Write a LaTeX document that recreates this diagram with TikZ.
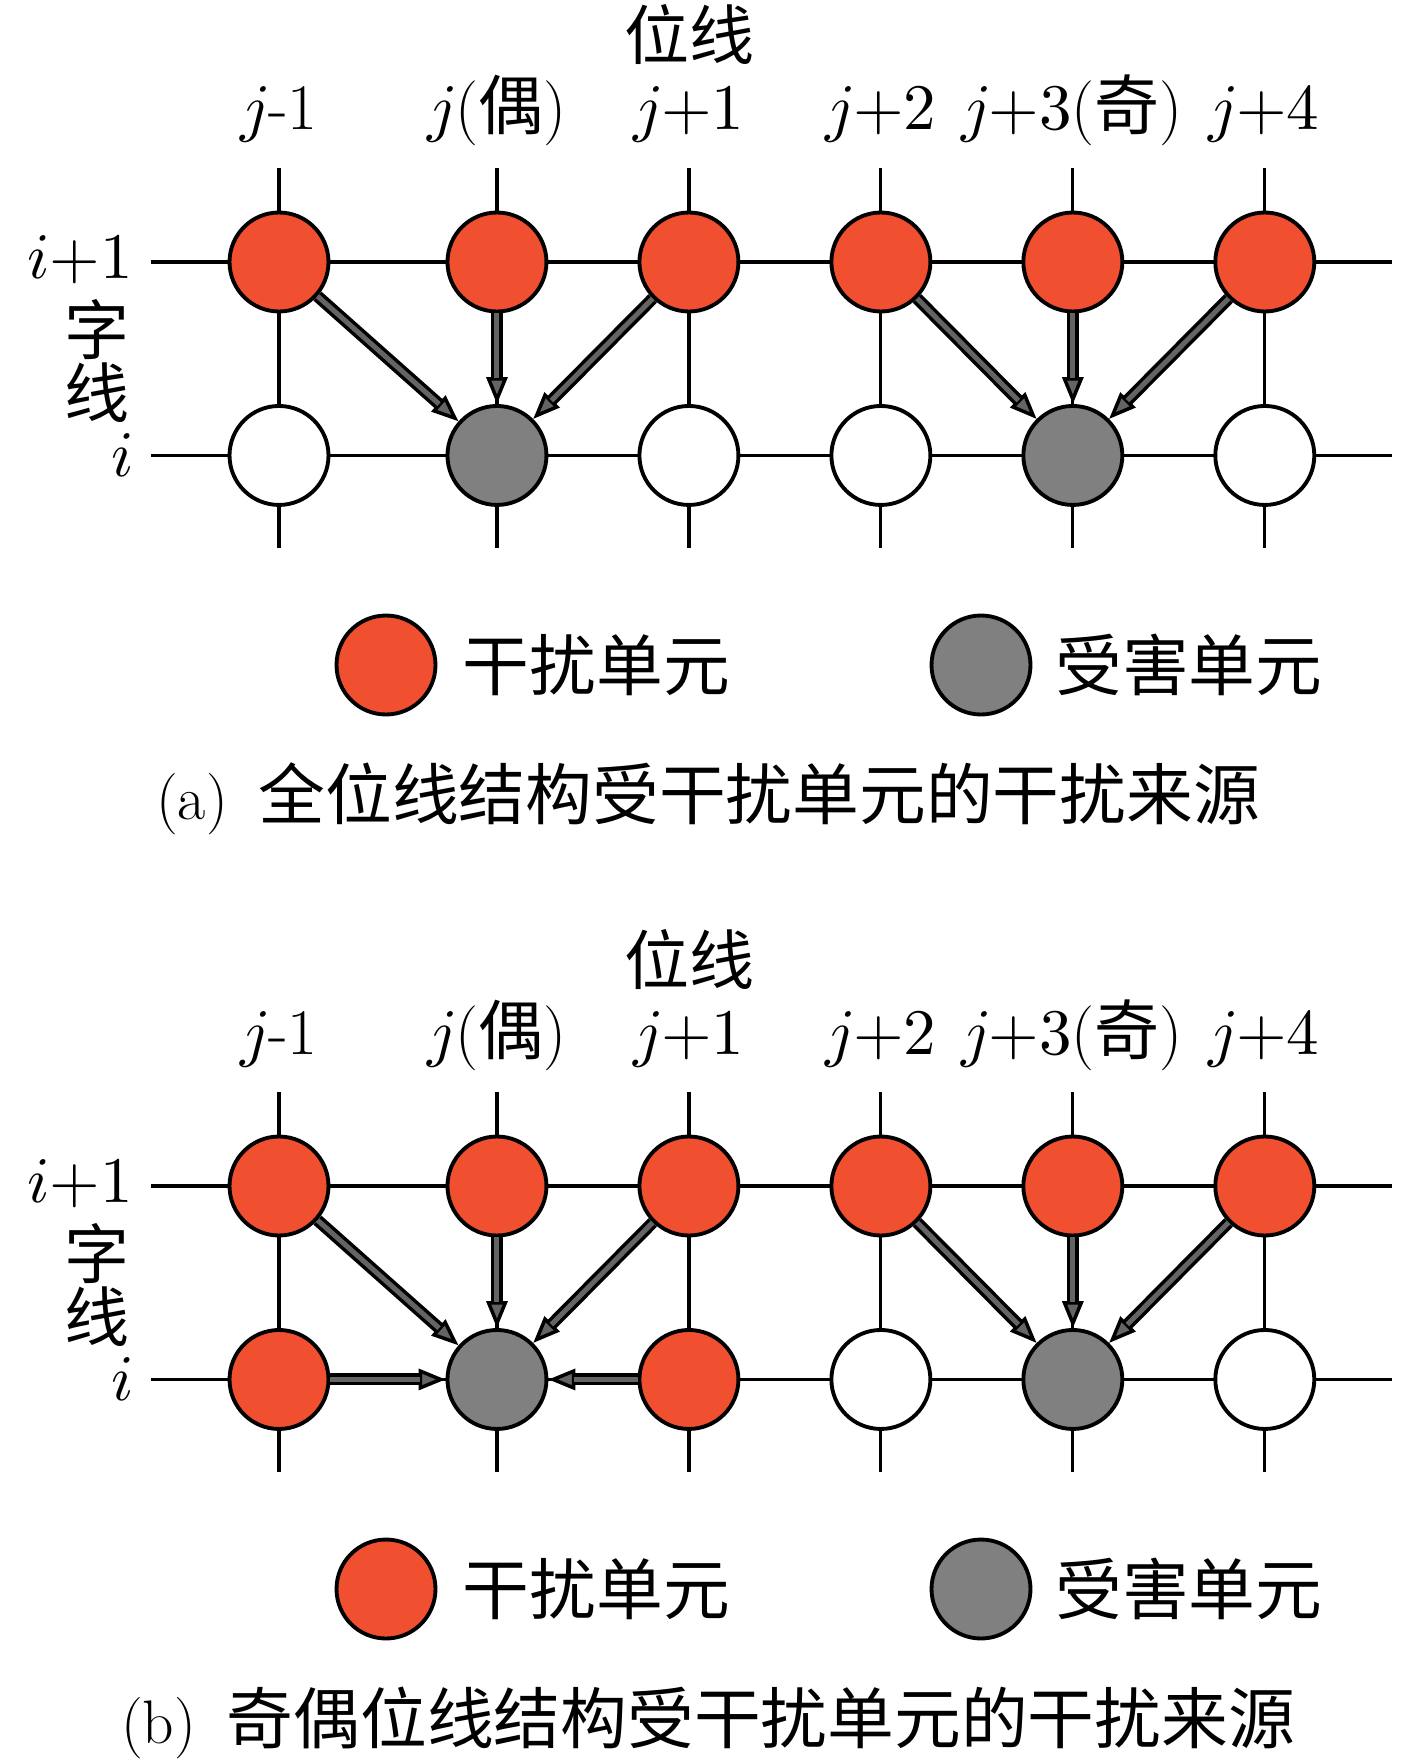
\documentclass[tikz,border=0pt]{standalone}
\usepackage{fontspec}
\usepackage{unicode-math}
\setmathfont{Latin Modern Math}
\newfontfamily\cjk{Noto Sans CJK SC}
\usetikzlibrary{positioning,arrows.meta,backgrounds}

\definecolor{aggressor}{RGB}{240,80,48}
\definecolor{victim}{RGB}{128,128,128}
\definecolor{arrowgray}{RGB}{100,100,100}

\tikzset{
    cell/.style={circle,draw=black,line width=2.2pt,minimum size=1.98cm,inner sep=0pt,fill=white,on grid},
    aggr/.style={cell,fill=aggressor},
    vict/.style={cell,fill=victim},
    wire/.style={draw=black,line width=1.8pt},
    hit/.style={draw=black,line width=0.24cm,
        -{Triangle[length=0.54cm,width=0.42cm,fill=arrowgray,line width=0.07cm]},
        postaction={draw=arrowgray,line width=0.1cm,-,shorten >=0.52cm}},
    lbl/.style={inner sep=0pt,font=\fontsize{37}{44}\selectfont},
    keytext/.style={inner sep=0pt,font=\fontsize{38}{44}\selectfont},
    captiontext/.style={inner sep=0pt,font=\fontsize{35}{50}\selectfont}
}

\begin{document}
\begin{tikzpicture}[x=0.02cm,y=-0.02cm]
    \useasboundingbox (0,0) rectangle (1417,1760);

    % (a) all bit lines
    \node (a-bl) [lbl] at (689,35) {\cjk 位线};
    \node (a-h1) [lbl,anchor=base] at (279,130) {$j$-1};
    \node (a-h2) [lbl,anchor=base] at (497,130) {$j$({\cjk 偶})};
    \node (a-h3) [lbl,anchor=base] at (689,130) {$j{+}1$};
    \node (a-h4) [lbl,anchor=base] at (881,130) {$j{+}2$};
    \node (a-h5) [lbl,anchor=base] at (1072,130) {$j{+}3$({\cjk 奇})};
    \node (a-h6) [lbl,anchor=base] at (1264,130) {$j{+}4$};
    \node (a-r1) [lbl] at (80,260) {$i{+}1$};
    \node (a-wl1) [lbl] at (97,330) {\cjk 字};
    \node (a-wl2) [lbl] at (97,393) {\cjk 线};
    \node (a-r0) [lbl] at (123,455) {$i$};

    \node (au1) [aggr] at (279,262) {};
    \node (au2) [aggr,right=4.36cm of au1] {};
    \node (au3) [aggr,right=3.84cm of au2] {};
    \node (au4) [aggr,right=3.84cm of au3] {};
    \node (au5) [aggr,right=3.84cm of au4] {};
    \node (au6) [aggr,right=3.84cm of au5] {};
    \node (al1) [cell,below=3.87cm of au1] {};
    \node (al2) [vict,below=3.87cm of au2] {};
    \node (al3) [cell,below=3.87cm of au3] {};
    \node (al4) [cell,below=3.87cm of au4] {};
    \node (al5) [vict,below=3.87cm of au5] {};
    \node (al6) [cell,below=3.87cm of au6] {};
    \coordinate (a-top) at (0,168);
    \coordinate (a-bot) at (0,548);
    \coordinate (a-west) at (151,0);
    \coordinate (a-east) at (1392,0);

    \draw[hit] (au1) -- (al2);
    \draw[hit] (au2) -- (al2);
    \draw[hit] (au3) -- (al2);
    \draw[hit] (au4) -- (al5);
    \draw[hit] (au5) -- (al5);
    \draw[hit] (au6) -- (al5);

    \node (a-key1) [aggr] at (386,665) {};
    \node (a-txt1) [keytext,right=0.5cm of a-key1] {\cjk 干扰单元};
    \node (a-key2) [vict] at (981,665) {};
    \node (a-txt2) [keytext,right=0.45cm of a-key2] {\cjk 受害单元};
    \node (a-cap) [captiontext] at (708,799) {(a)\hspace{0.5em}{\cjk\fontsize{38}{50}\selectfont 全位线结构受干扰单元的干扰来源}};

    % (b) odd/even bit lines
    \node (b-bl) [lbl] at (689,959) {\cjk 位线};
    \node (b-h1) [lbl,anchor=base] at (279,1054) {$j$-1};
    \node (b-h2) [lbl,anchor=base] at (497,1054) {$j$({\cjk 偶})};
    \node (b-h3) [lbl,anchor=base] at (689,1054) {$j{+}1$};
    \node (b-h4) [lbl,anchor=base] at (881,1054) {$j{+}2$};
    \node (b-h5) [lbl,anchor=base] at (1072,1054) {$j{+}3$({\cjk 奇})};
    \node (b-h6) [lbl,anchor=base] at (1264,1054) {$j{+}4$};
    \node (b-r1) [lbl] at (80,1184) {$i{+}1$};
    \node (b-wl1) [lbl] at (97,1254) {\cjk 字};
    \node (b-wl2) [lbl] at (97,1317) {\cjk 线};
    \node (b-r0) [lbl] at (123,1379) {$i$};

    \node (bu1) [aggr] at (279,1186) {};
    \node (bu2) [aggr,right=4.36cm of bu1] {};
    \node (bu3) [aggr,right=3.84cm of bu2] {};
    \node (bu4) [aggr,right=3.84cm of bu3] {};
    \node (bu5) [aggr,right=3.84cm of bu4] {};
    \node (bu6) [aggr,right=3.84cm of bu5] {};
    \node (bl1) [aggr,below=3.87cm of bu1] {};
    \node (bl2) [vict,below=3.87cm of bu2] {};
    \node (bl3) [aggr,below=3.87cm of bu3] {};
    \node (bl4) [cell,below=3.87cm of bu4] {};
    \node (bl5) [vict,below=3.87cm of bu5] {};
    \node (bl6) [cell,below=3.87cm of bu6] {};
    \coordinate (b-top) at (0,1092);
    \coordinate (b-bot) at (0,1472);
    \coordinate (b-west) at (151,0);
    \coordinate (b-east) at (1392,0);

    \draw[hit] (bu1) -- (bl2);
    \draw[hit] (bu2) -- (bl2);
    \draw[hit] (bu3) -- (bl2);
    \draw[hit] (bl1) -- (bl2);
    \draw[hit] (bl3) -- (bl2);
    \draw[hit] (bu4) -- (bl5);
    \draw[hit] (bu5) -- (bl5);
    \draw[hit] (bu6) -- (bl5);

    \node (b-key1) [aggr] at (386,1589) {};
    \node (b-txt1) [keytext,right=0.5cm of b-key1] {\cjk 干扰单元};
    \node (b-key2) [vict] at (981,1589) {};
    \node (b-txt2) [keytext,right=0.45cm of b-key2] {\cjk 受害单元};
    \node (b-cap) [captiontext] at (708,1723) {(b)\hspace{0.5em}{\cjk\fontsize{38}{50}\selectfont 奇偶位线结构受干扰单元的干扰来源}};

    % grid wires behind the cells
    \begin{scope}[on background layer]
        \fill[white] (0,0) rectangle (1417,1760);
        \draw[wire] (a-west |- au1) -- (a-east |- au1);
        \draw[wire] (a-west |- al1) -- (a-east |- al1);
        \draw[wire] (au1 |- a-top) -- (al1 |- a-bot);
        \draw[wire] (au2 |- a-top) -- (al2 |- a-bot);
        \draw[wire] (au3 |- a-top) -- (al3 |- a-bot);
        \draw[wire] (au4 |- a-top) -- (al4 |- a-bot);
        \draw[wire] (au5 |- a-top) -- (al5 |- a-bot);
        \draw[wire] (au6 |- a-top) -- (al6 |- a-bot);
        \draw[wire] (b-west |- bu1) -- (b-east |- bu1);
        \draw[wire] (b-west |- bl1) -- (b-east |- bl1);
        \draw[wire] (bu1 |- b-top) -- (bl1 |- b-bot);
        \draw[wire] (bu2 |- b-top) -- (bl2 |- b-bot);
        \draw[wire] (bu3 |- b-top) -- (bl3 |- b-bot);
        \draw[wire] (bu4 |- b-top) -- (bl4 |- b-bot);
        \draw[wire] (bu5 |- b-top) -- (bl5 |- b-bot);
        \draw[wire] (bu6 |- b-top) -- (bl6 |- b-bot);
    \end{scope}
\end{tikzpicture}
\end{document}
